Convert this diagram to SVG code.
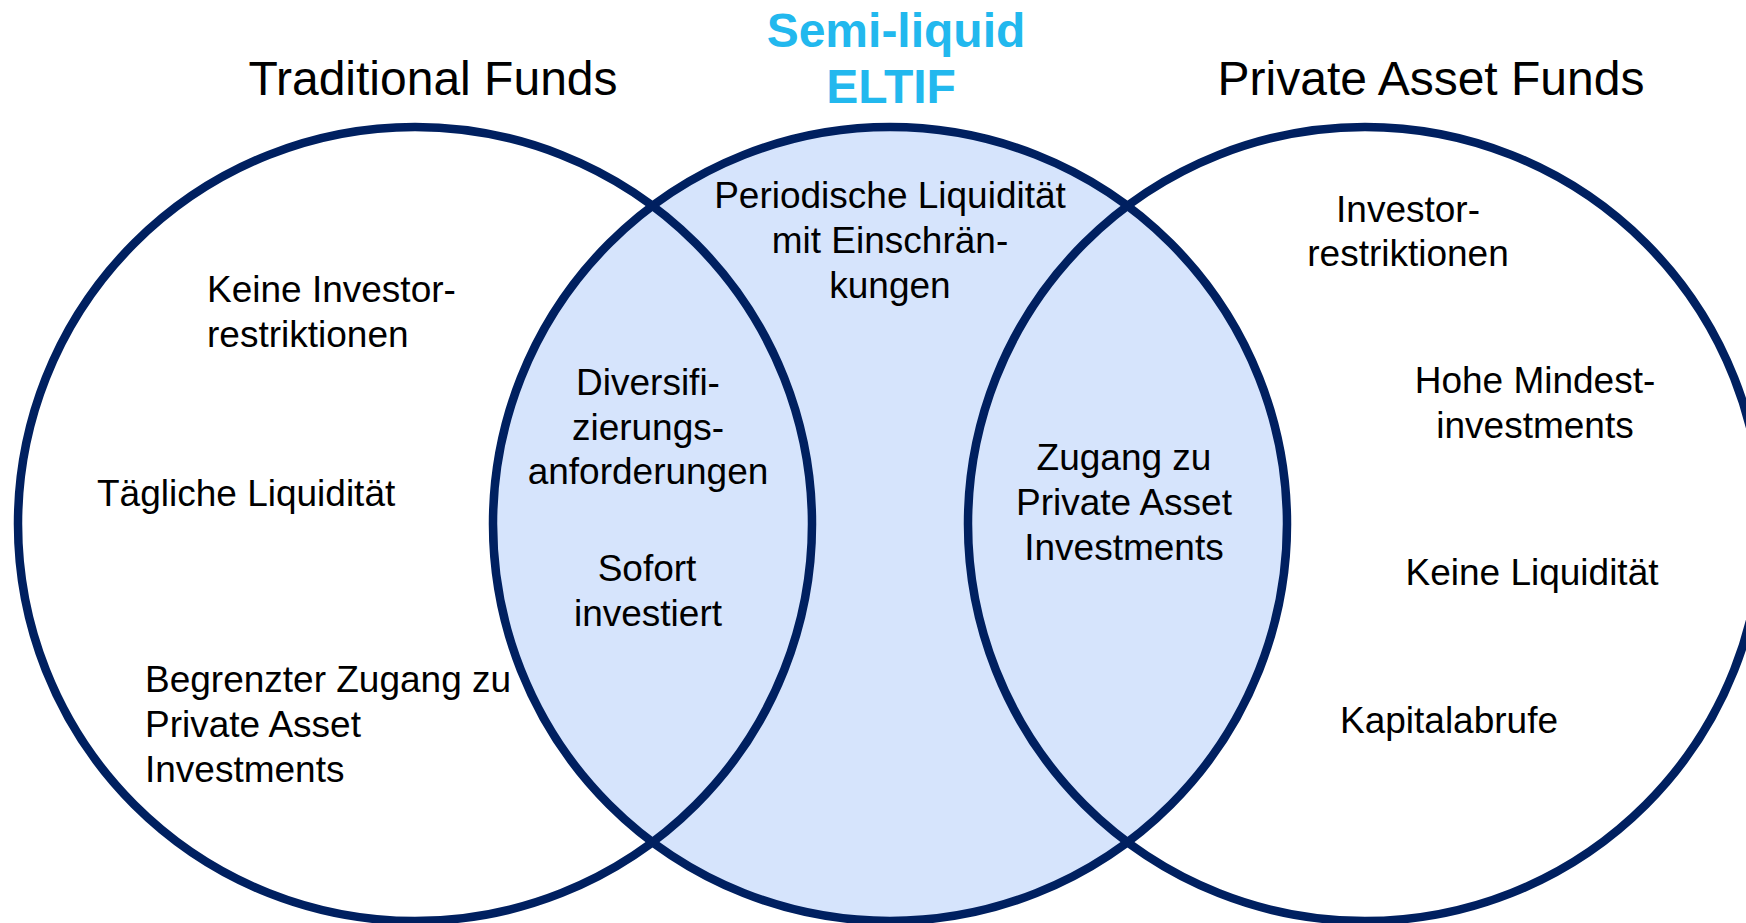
<svg xmlns="http://www.w3.org/2000/svg" width="1746" height="923" viewBox="0 0 1746 923">
<style>
.c{stroke:#002060;stroke-width:8.5}
.t{font-family:"Liberation Sans",Arial,sans-serif;font-size:37px;fill:#000}
.m{text-anchor:middle}
.h{font-family:"Liberation Sans",Arial,sans-serif;font-size:48px;fill:#000;text-anchor:middle}
.s{font-family:"Liberation Sans",Arial,sans-serif;font-size:48px;font-weight:bold;fill:#22B8EE;text-anchor:middle}
</style>
<rect width="1746" height="923" fill="#fff"/>
<g id="semi-liquid">
<circle class="c" cx="890" cy="524" r="397" fill="#D6E4FC"/>
<text class="s" x="896" y="47">Semi-liquid</text>
<text class="s" x="891" y="103">ELTIF</text>
<text class="t m" x="890" y="208">Periodische Liquidität</text>
<text class="t m" x="890" y="253">mit Einschrän-</text>
<text class="t m" x="890" y="298">kungen</text>
</g>
<g id="traditional">
<circle class="c" cx="415" cy="524" r="397" fill="none"/>
<text class="h" x="433" y="95">Traditional Funds</text>
<text class="t" x="207" y="302">Keine Investor-</text>
<text class="t" x="207" y="347">restriktionen</text>
<text class="t" x="97" y="506">Tägliche Liquidität</text>
<text class="t" x="145" y="692">Begrenzter Zugang zu</text>
<text class="t" x="145" y="737">Private Asset</text>
<text class="t" x="145" y="782">Investments</text>
</g>
<g id="private">
<circle class="c" cx="1365" cy="524" r="397" fill="none"/>
<text class="h" x="1431" y="95">Private Asset Funds</text>
<text class="t m" x="1408" y="222">Investor-</text>
<text class="t m" x="1408" y="266">restriktionen</text>
<text class="t m" x="1535" y="393">Hohe Mindest-</text>
<text class="t m" x="1535" y="438">investments</text>
<text class="t m" x="1532" y="585">Keine Liquidität</text>
<text class="t m" x="1449" y="733">Kapitalabrufe</text>
</g>
<g id="overlap-left">
<text class="t m" x="648" y="395">Diversifi-</text>
<text class="t m" x="648" y="440">zierungs-</text>
<text class="t m" x="648" y="484">anforderungen</text>
<text class="t m" x="647" y="581">Sofort</text>
<text class="t m" x="648" y="626">investiert</text>
</g>
<g id="overlap-right">
<text class="t m" x="1124" y="470">Zugang zu</text>
<text class="t m" x="1124" y="515">Private Asset</text>
<text class="t m" x="1124" y="560">Investments</text>
</g>
<g id="connectors"></g>
</svg>
